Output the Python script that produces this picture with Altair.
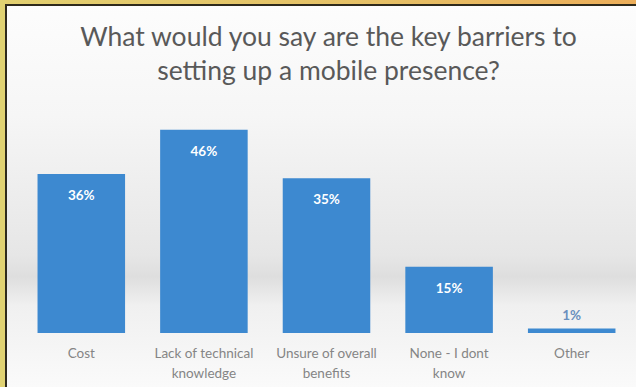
import altair as alt
import pandas as pd

title_lines = ["What would you say are the key barriers to", "setting up a mobile presence?"]
categories = ["Cost", "Lack of technical knowledge", "Unsure of overall benefits", "None - I dont know", "Other"]
label_lines = {
    "Cost": ["Cost"],
    "Lack of technical knowledge": ["Lack of technical", "knowledge"],
    "Unsure of overall benefits": ["Unsure of overall", "benefits"],
    "None - I dont know": ["None - I dont", "know"],
    "Other": ["Other"],
}
values = [36, 46, 35, 15, 1]

df = pd.DataFrame({"cat": categories, "val": values})
df["lbl"] = [f"{v}%" for v in values]

W, H = 613, 221
PL, PT, PR, PB = 20, 112, 3, 54
FONT = "Lato"

label_expr = " : ".join(
    [f"datum.label == '{k}' ? {v!r}" for k, v in label_lines.items()]
) + " : datum.label"

one = pd.DataFrame({"a": [0]})

# background gradient (decoration)
bg = alt.Chart(one).mark_rect(
    color=alt.Gradient(
        gradient="linear", x1=0, x2=0, y1=0, y2=1,
        stops=[
            alt.GradientStop(offset=0.0, color="#fdfdfd"),
            alt.GradientStop(offset=0.3, color="#f6f6f6"),
            alt.GradientStop(offset=0.66, color="#e6e6e6"),
            alt.GradientStop(offset=0.715, color="#dedede"),
            alt.GradientStop(offset=0.79, color="#f0f0f0"),
            alt.GradientStop(offset=1.0, color="#fafafa"),
        ],
    )
).encode(x=alt.value(-PL), x2=alt.value(W + PR), y=alt.value(-PT), y2=alt.value(H + PB))

# frame (decoration)
top_border = alt.Chart(one).mark_rect(
    color=alt.Gradient(
        gradient="linear", x1=0, x2=1, y1=0, y2=0,
        stops=[
            alt.GradientStop(offset=0.0, color="#e2d070"),
            alt.GradientStop(offset=0.6, color="#e6c066"),
            alt.GradientStop(offset=1.0, color="#ecae5a"),
        ],
    )
).encode(x=alt.value(-PL), x2=alt.value(W + PR), y=alt.value(-PT), y2=alt.value(-PT + 5))
left_border = alt.Chart(one).mark_rect(color="#e0d272").encode(
    x=alt.value(-PL), x2=alt.value(-PL + 5), y=alt.value(-PT), y2=alt.value(H + PB)
)
top_line = alt.Chart(one).mark_rect(color="#2e2a1c").encode(
    x=alt.value(-PL + 5), x2=alt.value(W + PR), y=alt.value(-PT + 4), y2=alt.value(-PT + 6)
)
left_line = alt.Chart(one).mark_rect(color="#2e2a1c").encode(
    x=alt.value(-PL + 5), x2=alt.value(-PL + 7), y=alt.value(-PT + 4), y2=alt.value(H + PB)
)

title = alt.Chart(one).mark_text(
    font=FONT, fontSize=26.5, color="#595959", lineHeight=34, align="center", baseline="alphabetic"
).encode(x=alt.value(W / 2 + 2), y=alt.value(-PT + 46), text=alt.value(title_lines))

x_enc = alt.X(
    "cat:N", sort=categories, title=None,
    scale=alt.Scale(paddingInner=0.286, paddingOuter=0.143),
    axis=alt.Axis(
        labelAngle=0, ticks=False, domain=False, labelColor="#858585",
        labelFont=FONT, labelFontSize=13.5, labelPadding=13,
        labelLineHeight=20, labelExpr=label_expr, labelLimit=200, zindex=2,
    ),
)
y_enc = alt.Y("val:Q", scale=alt.Scale(domain=[0, 50]), axis=None)

bars = alt.Chart(df).mark_bar(color="#3d89d0").encode(x=x_enc, y=y_enc)
inside = alt.Chart(df).transform_filter("datum.val >= 5").mark_text(
    color="white", fontWeight="bold", font=FONT, fontSize=13.5, dy=22, baseline="middle"
).encode(x=alt.X("cat:N", sort=categories), y="val:Q", text="lbl:N")
outside = alt.Chart(df).transform_filter("datum.val < 5").mark_text(
    color="#6a8fbe", fontWeight="bold", font=FONT, fontSize=13.5, dy=-13, baseline="middle"
).encode(x=alt.X("cat:N", sort=categories), y="val:Q", text="lbl:N")

chart = alt.layer(bg, top_border, left_border, top_line, left_line, title, bars, inside, outside).properties(
    width=W, height=H,
    padding={"left": PL, "top": PT, "right": PR, "bottom": PB},
    autosize=alt.AutoSizeParams(type="none"),
    background="white",
).configure_view(stroke=None)

chart.save("out.html", embed_options={"renderer": "svg", "actions": False})
